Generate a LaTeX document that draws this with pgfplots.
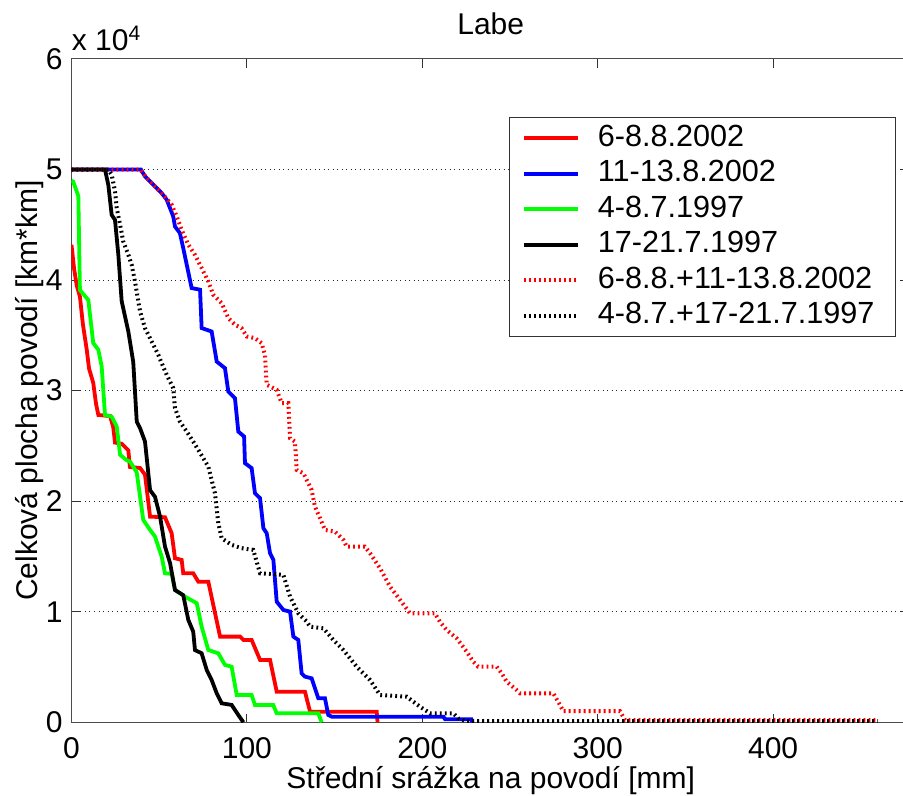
\documentclass[border=0pt]{standalone}
\usepackage{fontspec}
\setmainfont{Liberation Sans}
\usepackage{pgfplots}
\pgfplotsset{compat=1.18}
\begin{document}
\begin{tikzpicture}
\begin{axis}[
  at={(0,0)}, anchor=south west,
  scale only axis,
  width=419.2pt, height=331.65pt,
  xmin=0, xmax=478, ymin=0, ymax=60000,
  xtick={0,100,200,300,400},
  ytick={0,10000,20000,30000,40000,50000,60000},
  yticklabels={0,1,2,3,4,5,6},
  scaled y ticks=false, scaled x ticks=false,
  tick align=inside,
  major tick length=4.3pt,
  minor tick num=0,
  ymajorgrids,
  grid style={black!85, line width=0.5pt, dash pattern=on 0.5pt off 1.75pt},
  axis line style={black!70, line width=0.5pt},
  tick style={black!80, line width=0.5pt},
  font=\fontsize{15}{18}\selectfont,
  /pgf/number format/assume math mode=true,
  xticklabel style={anchor=north, inner sep=0pt, yshift=-7.2pt},
  yticklabel style={anchor=east, inner sep=0pt, xshift=-4.3pt},
  title={Labe},
  title style={at={(axis description cs:0.5,1)}, anchor=base, yshift=6pt, inner sep=0pt},
  xlabel={Střední srážka na povodí [mm]},
  xlabel style={at={(axis description cs:0.5,0)}, anchor=base, yshift=-32.9pt, inner sep=0pt},
  ylabel={Celková plocha povodí [km*km]},
  ylabel style={at={(axis description cs:-0.0501,0.5)}, anchor=center, inner sep=0pt},
  extra description/.code={\node[anchor=base west, inner sep=0pt] at (0,1) [yshift=4pt] {x 10\textsuperscript{4}};},
  legend style={at={(axis description cs:0.9833,0.9126)}, anchor=north east, draw=black!80, line width=0.5pt, fill=white, inner xsep=6pt, inner ysep=1.5pt, row sep=0pt, column sep=4.5pt, font=\fontsize{15.3}{18}\selectfont, nodes={inner xsep=4.5pt, inner ysep=1.875pt, text height=11pt, text depth=3pt}},
  legend cell align=left,
  legend image code/.code={\draw[#1] (0pt,0pt) -- (27pt,0pt);},
]
% 6-8.8.2002
\addplot[red, line width=1.9pt] coordinates {
(0,43200) (1.5,41000) (3,39500) (4.8,38500) (6.5,36000) (8.7,33700) (10,32000) (12.4,30700) (14,28800) (15.3,27800) (22,27700) (23.8,26700) (24.8,25300) (28.6,25200) (32.4,24600) (33.3,23100) (39.1,23000) (41.9,22400) (44.8,18600) (53.3,18550) (57.1,17100) (59,14840) (62.8,14690) (63.7,13480) (69.4,13480) (72.3,12720) (78,12720) (84.7,7750) (96.1,7750) (98,7450) (102.7,7450) (107.5,5640) (113.2,5640) (117,2770) (133.1,2770) (136,960) (174,960) (174.5,0)
};
\addlegendentry{6-8.8.2002}
% 11-13.8.2002
\addplot[blue, line width=1.9pt] coordinates {
(0,50000) (39.6,50000) (41.9,49380) (45.7,48780) (51.4,47870) (54.3,47270) (58,45760) (59,44850) (61.8,44250) (63.7,42900) (65.7,41390) (68.5,39280) (73.3,39130) (74.2,35660) (79.9,35350) (82.8,32630) (87.5,32030) (89.4,29920) (93.2,29320) (95.1,26300) (98.4,25850) (98.9,23440) (102.7,22990) (104.6,20720) (107.5,20270) (109.4,17560) (111.3,17100) (113.2,15290) (115.1,14690) (117,10910) (120.8,10160) (124.6,10010) (126.5,7750) (129.3,7450) (131.2,4430) (133.1,4130) (136.9,3980) (140.7,2170) (144.5,2170) (146.4,660) (148.3,510) (212,510) (213,270) (228,270) (228.5,0)
};
\addlegendentry{11-13.8.2002}
% 4-8.7.1997
\addplot[green, line width=1.9pt] coordinates {
(0,49000) (1,48900) (3.9,47600) (4.8,39100) (9.6,38200) (12.4,34300) (15.3,33700) (17.2,32200) (19.1,27800) (22.9,27650) (25.8,26750) (27.7,24200) (31.5,23700) (33.4,23580) (37.2,22600) (40.9,18310) (44.8,17400) (47.6,16800) (51.4,14990) (53.3,13480) (57.1,13430) (59,11970) (64.7,11370) (71.4,10770) (74.2,8650) (78,6540) (83.7,6240) (87.5,5190) (91.3,5030) (94.2,2470) (102.7,2470) (104.6,1570) (115,1570) (117,815) (140.7,815) (142.6,0)
};
\addlegendentry{4-8.7.1997}
% 17-21.7.1997
\addplot[black, line width=1.9pt] coordinates {
(0,50000) (19.1,50000) (21,48600) (22.9,45900) (24.8,45450) (26.7,42300) (28.6,38100) (32.4,35350) (35.2,32600) (37.2,27200) (39.1,26600) (41.9,25400) (44.8,21000) (47.6,20400) (50.5,18600) (53.3,15900) (56.2,14400) (59,11970) (63.7,11500) (66.6,9260) (69.4,8200) (70.4,6540) (74.2,6240) (77.1,4730) (79.9,3830) (82.8,2620) (85.6,1720) (91.3,1570) (95.1,660) (98,0)
};
\addlegendentry{17-21.7.1997}
% 6-8.8.+11-13.8.2002
\addplot[red, line width=2pt, dash pattern=on 0.9pt off 1.6pt] coordinates {
(0,50000) (39.1,50000) (42.9,49230) (47.6,48470) (52.3,47720) (57.1,46820) (60,45760) (62.8,44550) (66.6,43200) (70.4,42280) (74.2,41090) (78,39870) (80.8,38670) (85.6,37920) (89.4,36560) (93.2,35960) (97,35650) (99.9,34900) (104.6,34750) (108.4,34300) (110.3,33240) (111.3,30530) (117,30070) (119.8,28870) (123.6,28870) (124.6,25700) (127.4,25390) (128.4,22830) (132.2,22530) (136.9,21020) (138.8,19510) (141.7,18460) (144.5,17400) (150.2,17250) (155,16500) (156.9,15890) (167.3,15890) (170.2,15290) (175.9,13940) (181.6,12270) (187.3,11070) (193,9860) (207.2,9860) (210,9100) (213.9,8350) (219.6,7600) (225.3,6390) (229.1,5480) (231.9,5030) (242.4,5030) (245.3,4430) (248.1,3670) (253.8,2920) (255.7,2620) (274.7,2620) (278.5,1570) (280.4,1000) (312.7,1000) (315.6,200) (459.6,200)
};
\addlegendentry{6-8.8.+11-13.8.2002}
% 4-8.7.+17-21.7.1997
\addplot[black, line width=2pt, dash pattern=on 0.9pt off 1.6pt] coordinates {
(0,50000) (21,50000) (22.9,49530) (24.8,48020) (25.8,46520) (27.7,45010) (29.5,43500) (32.4,42290) (34.3,41390) (36.2,39870) (38.1,38060) (39.1,37160) (41.9,35660) (45.7,34450) (49.5,33240) (51.4,32490) (54.3,31430) (58,30230) (59,28420) (61.8,27200) (65.7,26300) (69.4,25390) (72.3,24640) (78,23130) (81.8,20720) (83.7,18010) (85.6,16650) (91.3,16050) (97,15750) (103.6,15600) (107.5,13480) (120.8,13330) (124.6,11370) (129.3,9860) (134.1,9110) (136,8650) (143.6,8500) (149.3,7450) (155,6540) (162.6,5030) (170.2,3830) (175.9,2470) (191.1,2320) (198.7,1410) (204.4,815) (217.7,815) (220.5,350) (225,100) (459.6,100)
};
\addlegendentry{4-8.7.+17-21.7.1997}
\end{axis}
\pgfresetboundingbox
\useasboundingbox (-35.75pt,-36.85pt) rectangle (415.75pt,361.15pt);
\end{tikzpicture}
\end{document}
